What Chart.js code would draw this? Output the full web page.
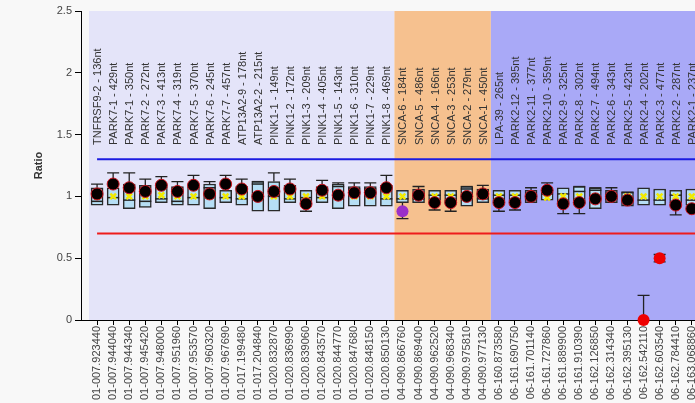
<!DOCTYPE html>
<html>
<head>
<meta charset="utf-8">
<script src="https://cdn.jsdelivr.net/npm/chart.js@4/dist/chart.umd.min.js"></script>
<style>
  html, body { margin: 0; padding: 0; background: #f8f8f8; overflow: hidden; }
  #wrap { width: 695px; height: 403px; position: relative; }
</style>
</head>
<body>
<div id="wrap"><canvas id="chart"></canvas></div>
<script>
// Probe names drawn inside the plot, top
const probeNames = [
  'TNFRSF9-2 - 136nt', 'PARK7-1 - 429nt', 'PARK7-1 - 350nt', 'PARK7-2 - 272nt',
  'PARK7-3 - 413nt', 'PARK7-4 - 319nt', 'PARK7-5 - 370nt', 'PARK7-6 - 245nt',
  'PARK7-7 - 457nt', 'ATP13A2-9 - 178nt', 'ATP13A2-2 - 215nt', 'PINK1-1 - 149nt',
  'PINK1-2 - 172nt', 'PINK1-3 - 209nt', 'PINK1-4 - 405nt', 'PINK1-5 - 143nt',
  'PINK1-6 - 310nt', 'PINK1-7 - 229nt', 'PINK1-8 - 469nt',
  'SNCA-6 - 184nt', 'SNCA-5 - 486nt', 'SNCA-4 - 166nt', 'SNCA-3 - 253nt',
  'SNCA-2 - 279nt', 'SNCA-1 - 450nt',
  'LPA-39 - 265nt', 'PARK2-12 - 395nt', 'PARK2-11 - 377nt', 'PARK2-10 - 359nt',
  'PARK2-9 - 325nt', 'PARK2-8 - 302nt', 'PARK2-7 - 494nt', 'PARK2-6 - 343nt',
  'PARK2-5 - 423nt', 'PARK2-4 - 202nt', 'PARK2-3 - 477nt', 'PARK2-2 - 287nt',
  'PARK2-1 - 237nt',
];

// Chromosome positions (x axis tick labels)
const positions = [
  '01-007.923440', '01-007.944040', '01-007.944340', '01-007.945420',
  '01-007.948000', '01-007.951960', '01-007.953570', '01-007.960320',
  '01-007.967690', '01-017.199480', '01-017.204840', '01-020.832870',
  '01-020.836990', '01-020.839060', '01-020.843570', '01-020.844770',
  '01-020.847680', '01-020.848150', '01-020.850130',
  '04-090.866760', '04-090.869400', '04-090.962520', '04-090.968340',
  '04-090.975810', '04-090.977130',
  '06-160.873580', '06-161.690750', '06-161.701140', '06-161.727860',
  '06-161.889900', '06-161.910390', '06-162.126850', '06-162.314340',
  '06-162.395130', '06-162.542110', '06-162.603540', '06-162.784410',
  '06-163.068860',
];

// Background groups: [first index, last index, colour]
const groupRanges = [
  [0, 18, '#e4e4f9'],
  [19, 24, '#f6c18f'],
  [25, 40, '#a9a9f7'],
];

// Box plot values per probe
const whiskerHigh = [1.10, 1.19, 1.19, 1.14, 1.16, 1.12, 1.17, 1.12, 1.17, 1.14,
  1.12, 1.19, 1.14, null, 1.13, 1.11, 1.11, 1.11, 1.17,
  null, 1.08, null, null, 1.08, 1.09,
  null, null, 1.07, 1.11, null, 1.08, 1.07, 1.07, null, null, null, null, null];
const q3 = [1.07, 1.07, 1.10, 1.09, 1.08, 1.08, 1.08, 1.10, 1.05, 1.08,
  1.12, 1.12, 1.09, 1.05, 1.08, 1.10, 1.08, 1.08, 1.09,
  1.05, 1.06, 1.05, 1.05, 1.08, 1.06,
  1.05, 1.05, 1.05, 1.04, 1.07, 1.08, 1.07, 1.05, 1.04, 1.07, 1.06, 1.05, 1.06];
const median = [0.96, 0.99, 0.97, 0.96, 0.98, 0.96, 0.99, 1.07, 0.99, 0.98,
  1.10, 1.00, 0.98, 0.99, 0.99, 1.08, 1.06, 1.06, 0.98,
  0.98, 0.98, 1.01, 1.01, 1.06, 0.98,
  1.01, 1.01, 0.98, 1.02, 1.02, 1.04, 1.05, 0.98, 1.03, 0.97, 0.97, 1.01, 0.97];
const q1 = [0.93, 0.93, 0.90, 0.91, 0.95, 0.93, 0.93, 0.90, 0.95, 0.93,
  0.88, 0.88, 0.95, 0.96, 0.95, 0.90, 0.92, 0.92, 0.92,
  0.95, 0.95, 0.97, 0.96, 0.92, 0.95,
  0.96, 0.96, 0.95, 0.97, 0.95, 0.94, 0.90, 0.95, 0.92, 0.93, 0.93, 0.95, 0.93];
const whiskerLow = [null, null, null, null, null, null, null, null, null, null,
  null, null, null, 0.88, null, null, null, null, null,
  0.82, null, 0.89, 0.88, null, null,
  0.88, 0.89, null, null, 0.86, 0.86, null, null, null, null, null, 0.85, null];
const meanValues = [1.00, 1.00, 1.00, 1.00, 1.01, 1.00, 1.00, 1.00, 1.00, 1.00,
  1.00, 1.00, 1.00, 1.00, 1.00, 1.00, 1.00, 1.00, 1.00,
  1.00, 1.00, 1.00, 1.00, 1.00, 1.00,
  1.00, 1.00, 1.00, 0.99, 1.00, 1.00, 1.00, 1.00, 1.00, 1.00, 1.00, 1.00, 1.00];
// Sample ratio (dark dot)
const sampleRatio = [1.02, 1.10, 1.07, 1.04, 1.09, 1.04, 1.09, 1.02, 1.10, 1.06,
  1.00, 1.04, 1.06, 0.94, 1.05, 1.01, 1.03, 1.03, 1.07,
  null, 1.01, 0.95, 0.95, 1.00, 1.02,
  0.95, 0.95, 1.00, 1.05, 0.94, 0.95, 0.98, 1.00, 0.97, null, null, 0.93, 0.90];

// Flagged probes (outside the normal range)
const flagIndex = [19, 34, 35];
const flagValue = [0.88, 0.00, 0.50];
const flagLow = [null, null, 0.47];
const flagHigh = [null, 0.20, 0.53];
const flagColor = ['#9b30c8', '#ee0000', '#ee0000'];

// Reference limits
const upperLimit = 1.3;
const lowerLimit = 0.7;

const yTicks = [0, 0.5, 1, 1.5, 2, 2.5];
const xMin = -1;
const xMax = 37.2;

const pts = (arr) =>
  arr.map((v, i) => (v === null ? null : {x: i, y: v})).filter((p) => p);

const FONT = '11px "Liberation Sans", Arial, sans-serif';

// Coloured background bands + x axis labels
const bandsPlugin = {
  id: 'bands',
  beforeDraw(chart) {
    const {ctx, chartArea, scales} = chart;
    ctx.save();
    groupRanges.forEach(([a, b, color]) => {
      const x1 = Math.max(scales.x.getPixelForValue(a - 0.5), chartArea.left);
      const x2 = Math.min(scales.x.getPixelForValue(b + 0.5), chartArea.right);
      ctx.fillStyle = color;
      ctx.fillRect(x1, chartArea.top, x2 - x1, chartArea.bottom - chartArea.top);
    });
    ctx.restore();
  },
  afterDraw(chart) {
    const {ctx, chartArea, scales} = chart;
    ctx.save();
    ctx.font = FONT;
    ctx.fillStyle = '#444';
    ctx.textAlign = 'right';
    ctx.textBaseline = 'middle';
    positions.forEach((label, i) => {
      ctx.save();
      ctx.translate(scales.x.getPixelForValue(i), chartArea.bottom + 6);
      ctx.rotate(-Math.PI / 2);
      ctx.fillText(label, 0, 0);
      ctx.restore();
    });
    ctx.restore();
  },
};

// Probe names and whiskers
const probesPlugin = {
  id: 'probes',
  beforeDatasetsDraw(chart) {
    const {ctx, scales} = chart;
    const x = scales.x;
    const y = scales.y;
    ctx.save();
    ctx.font = FONT;
    ctx.fillStyle = '#333';
    ctx.textAlign = 'left';
    ctx.textBaseline = 'middle';
    probeNames.forEach((name, i) => {
      ctx.save();
      ctx.translate(x.getPixelForValue(i) + 1, 145);
      ctx.rotate(-Math.PI / 2);
      ctx.fillText(name, 0, 0);
      ctx.restore();
    });

    ctx.strokeStyle = '#222';
    ctx.lineWidth = 1.3;
    const whisker = (i, from, to) => {
      const px = x.getPixelForValue(i);
      const y1 = y.getPixelForValue(from);
      const y2 = y.getPixelForValue(to);
      ctx.beginPath();
      ctx.moveTo(px, y1);
      ctx.lineTo(px, y2);
      ctx.moveTo(px - 6, y2);
      ctx.lineTo(px + 6, y2);
      ctx.stroke();
    };
    positions.forEach((_, i) => {
      if (whiskerHigh[i] !== null) whisker(i, q3[i], whiskerHigh[i]);
      if (whiskerLow[i] !== null) whisker(i, q1[i], whiskerLow[i]);
    });
    flagIndex.forEach((i, k) => {
      if (flagHigh[k] !== null) whisker(i, flagValue[k], flagHigh[k]);
      if (flagLow[k] !== null) whisker(i, flagValue[k], flagLow[k]);
    });
    ctx.restore();
  },
};

const ctx = document.getElementById('chart').getContext('2d');
Chart.defaults.font.family = '"Liberation Sans", Arial, sans-serif';
Chart.defaults.font.size = 11;
Chart.defaults.color = '#444';

new Chart(ctx, {
  type: 'bar',
  data: {
    datasets: [
      {
        type: 'line',
        label: 'flags',
        data: flagIndex.map((i, k) => ({x: i, y: flagValue[k]})),
        showLine: false,
        pointRadius: 6,
        pointBackgroundColor: flagColor,
        pointBorderColor: flagColor,
        pointBorderWidth: 0,
        clip: false,
        order: 0,
      },
      {
        type: 'line',
        label: 'ratio',
        data: pts(sampleRatio),
        showLine: false,
        pointRadius: 6,
        pointBackgroundColor: '#050000',
        pointBorderColor: '#c8141e',
        pointBorderWidth: 1,
        order: 1,
      },
      {
        type: 'line',
        label: 'mean',
        data: pts(meanValues),
        showLine: false,
        pointStyle: 'crossRot',
        pointRadius: 4,
        pointBorderColor: '#f2ea00',
        pointBorderWidth: 2.5,
        order: 2,
      },
      {
        type: 'line',
        label: 'median',
        data: pts(median),
        showLine: false,
        pointStyle: 'line',
        pointRadius: 6,
        pointBorderColor: '#222',
        pointBorderWidth: 1.5,
        order: 3,
      },
      {
        type: 'bar',
        label: 'box',
        data: q1.map((v, i) => ({x: i, y: [v, q3[i]]})),
        backgroundColor: '#b6def5',
        borderColor: '#2a2a2a',
        borderWidth: 1.5,
        borderSkipped: false,
        barThickness: 12,
        order: 4,
      },
      {
        type: 'line',
        label: 'upper',
        data: [{x: 0, y: upperLimit}, {x: xMax + 1, y: upperLimit}],
        borderColor: '#1c1ce0',
        borderWidth: 2,
        pointRadius: 0,
        order: 5,
      },
      {
        type: 'line',
        label: 'lower',
        data: [{x: 0, y: lowerLimit}, {x: xMax + 1, y: lowerLimit}],
        borderColor: '#ee1c1c',
        borderWidth: 2,
        pointRadius: 0,
        order: 5,
      },
    ],
  },
  options: {
    responsive: true,
    maintainAspectRatio: false,
    animation: false,
    layout: {autoPadding: false, padding: {left: 28, top: 11, right: 0, bottom: 0}},
    plugins: {
      legend: {display: false},
      tooltip: {enabled: false},
    },
    scales: {
      x: {
        type: 'linear',
        min: xMin,
        max: xMax,
        offset: false,
        grid: {offset: false, drawOnChartArea: false, drawTicks: true, tickLength: 5, color: '#000'},
        border: {display: true, color: '#000', width: 1},
        afterBuildTicks: (scale) => {
          scale.ticks = positions.map((_, i) => ({value: i}));
        },
        afterFit: (scale) => {
          scale.height = 83;
        },
        ticks: {display: false},
      },
      y: {
        min: 0,
        max: 2.5,
        grid: {drawOnChartArea: false, drawTicks: true, tickLength: 6, color: '#000'},
        border: {display: true, color: '#000', width: 1},
        afterBuildTicks: (scale) => {
          scale.ticks = yTicks.map((v) => ({value: v}));
        },
        afterFit: (scale) => {
          scale.width = 53;
        },
        ticks: {color: '#444', padding: 3, callback: (v) => String(v)},
        title: {
          display: true,
          text: 'Ratio',
          color: '#333',
          font: {weight: 'bold', size: 11},
        },
      },
    },
  },
  plugins: [bandsPlugin, probesPlugin],
});
</script>
</body>
</html>
